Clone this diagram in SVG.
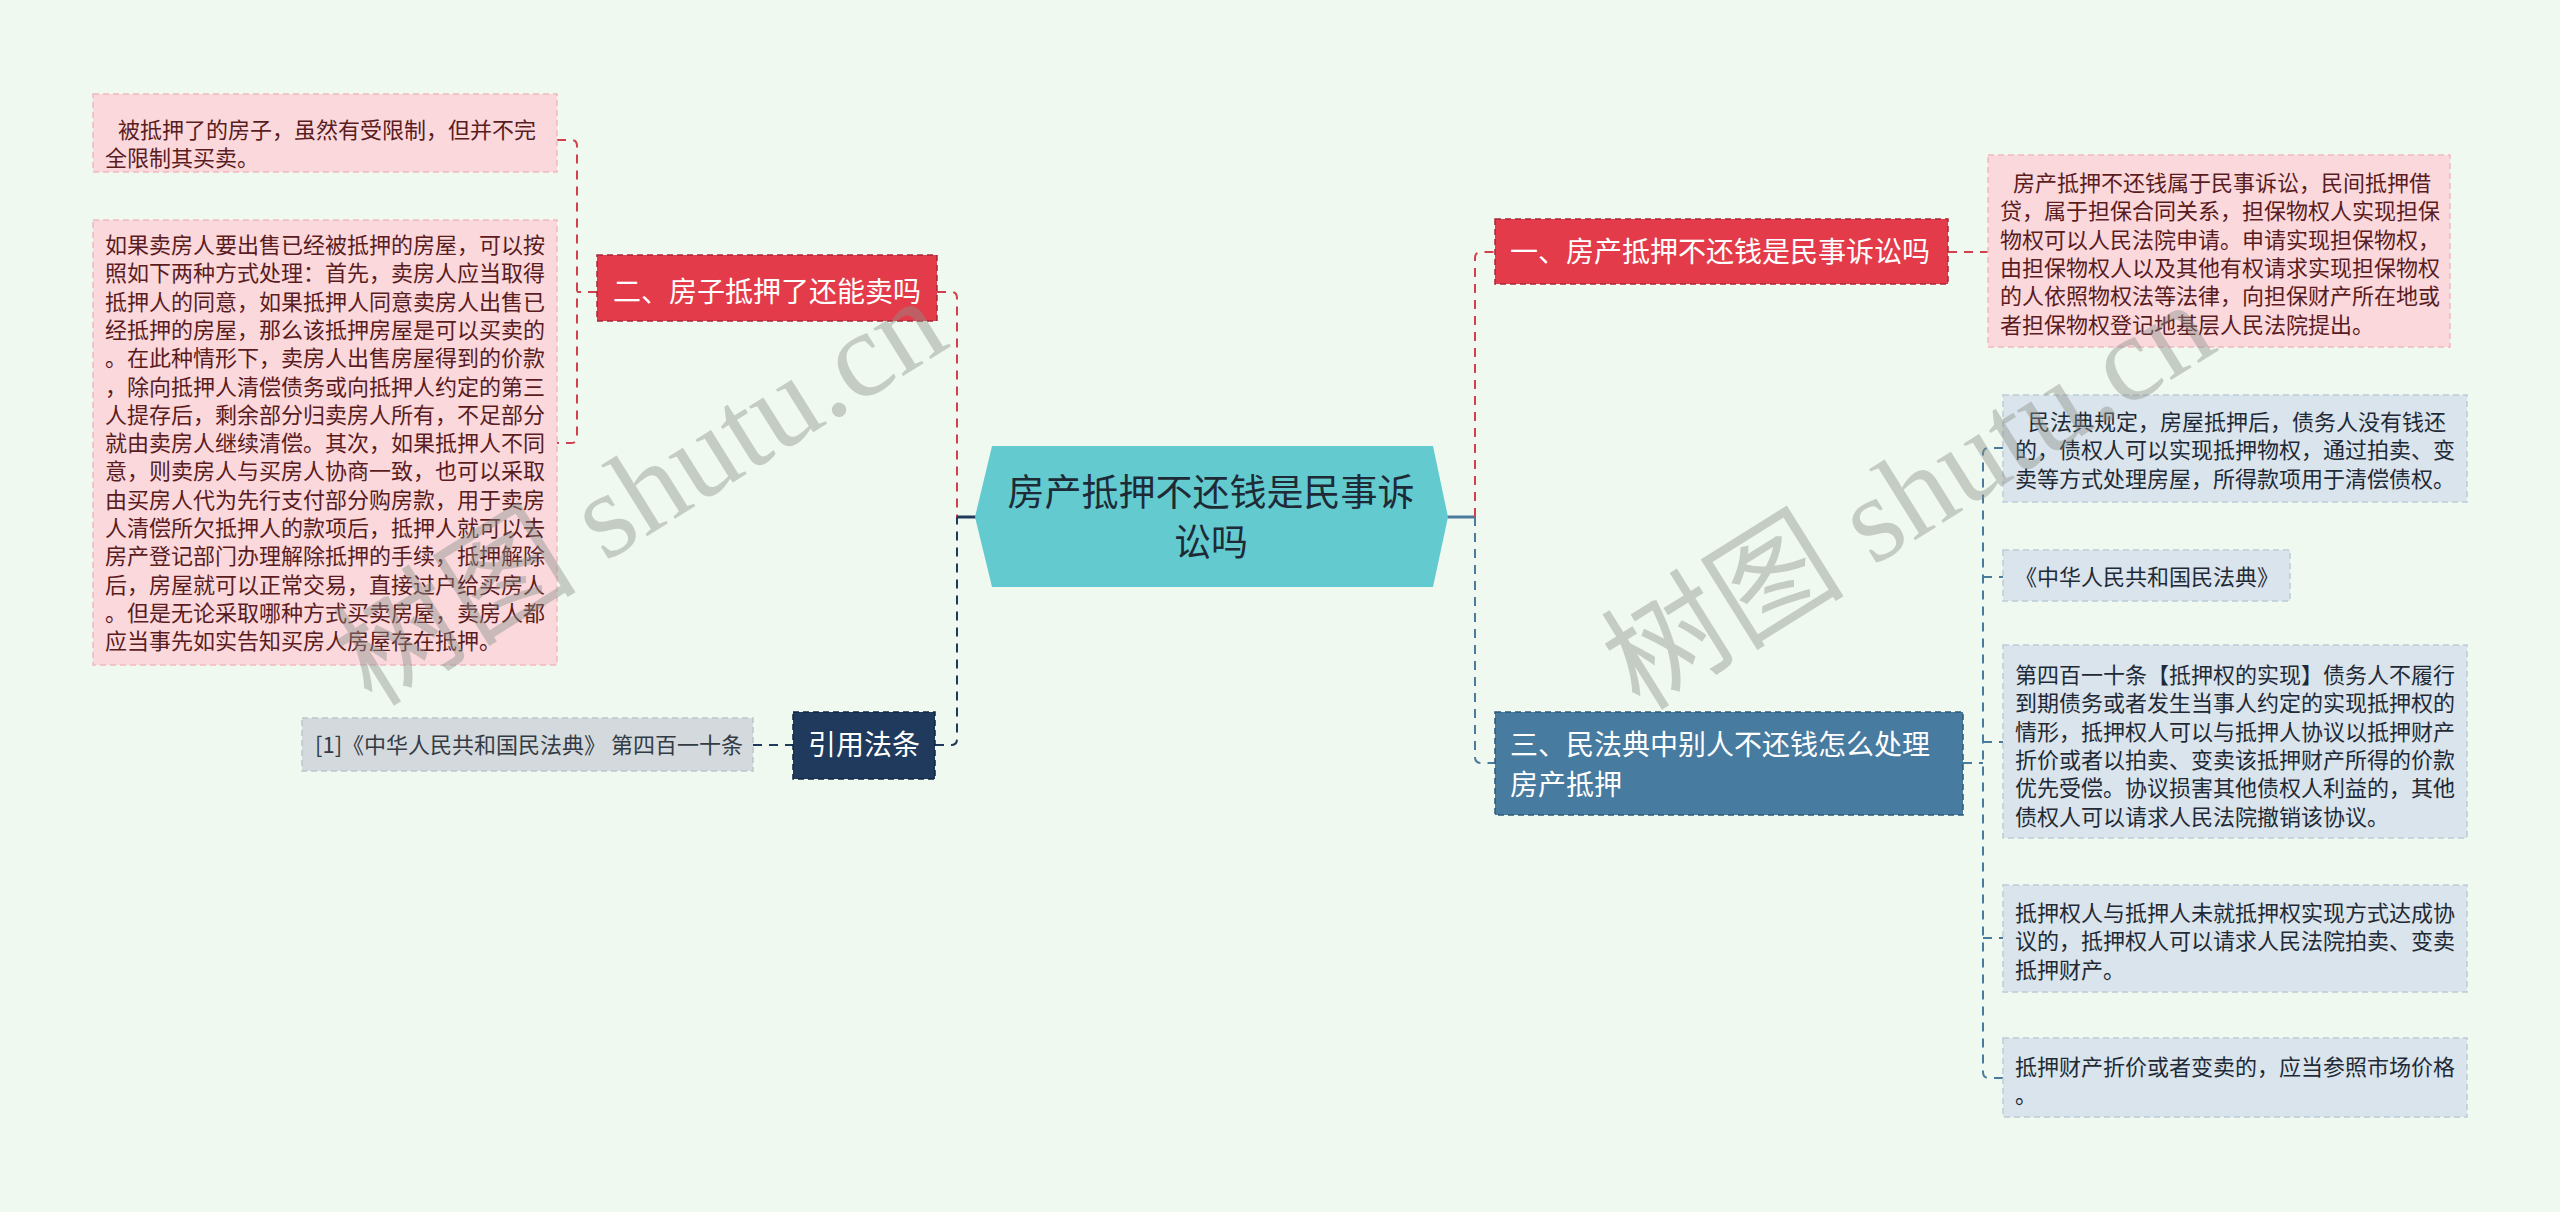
<svg xmlns="http://www.w3.org/2000/svg" width="2560" height="1212" viewBox="0 0 2560 1212">
<style>
text{font-family:"Noto Sans CJK SC","Liberation Sans",sans-serif;}
.pl rect{fill:#fad8dc;stroke:#f0b9bf;stroke-width:1.5;stroke-dasharray:6 4;}
.pl text{fill:#5a1c1e;font-size:22px;}
.bl rect{fill:#dae4ec;stroke:#bccbd8;stroke-width:1.5;stroke-dasharray:6 4;}
.bl text{fill:#1f2a36;font-size:22px;}
.rn rect{fill:#e43b4a;stroke:#a8283a;stroke-width:1.5;stroke-dasharray:6 4;}
.wt{fill:#ffffff;font-size:28px;}
.c{fill:none;stroke-width:2;stroke-dasharray:9 7;}
.red{stroke:#d0404e;}
.navy{stroke:#1f3a5c;}
.blue{stroke:#4a7a9c;}
.wm{font-family:"Liberation Serif","Noto Sans CJK SC",serif;font-size:122px;fill:#8a8f8a;opacity:0.42;}
</style>
<rect x="0" y="0" width="2560" height="1212" fill="#f0f9ef"/>

<g id="connectors">
  <path class="c red" d="M557,140 H571 Q577,140 577,146 V437 Q577,443 571,443 H557"/>
  <path class="c red" d="M597,292 H577"/>
  <path class="c red" d="M937,292 H951 Q957,292 957,298 V517"/>
  <path class="c navy" d="M753,745 H793"/>
  <path class="c navy" d="M935,745 H951 Q957,745 957,739 V517"/>
  <path d="M957,517 H976" stroke="#1f3a5c" stroke-width="3" fill="none"/>
  <path d="M1447,517 H1475" stroke="#4a7a9c" stroke-width="3" fill="none"/>
  <path class="c red" d="M1475,517 V258 Q1475,252 1481,252 H1495"/>
  <path class="c blue" d="M1475,517 V757 Q1475,763 1481,763 H1495"/>
  <path class="c red" d="M1948,252 H1988"/>
  <path class="c blue" d="M1963,763 H1983"/>
  <path class="c blue" d="M2003,448 H1989 Q1983,448 1983,454 V1072 Q1983,1078 1989,1078 H2003"/>
  <path class="c blue" d="M1983,577 H2003"/>
  <path class="c blue" d="M1983,742 H2003"/>
  <path class="c blue" d="M1983,938 H2003"/>
</g>

<g id="center">
  <polygon points="975,517 992,446 1433,446 1448,517 1433,587 992,587" fill="#63cbcf"/>
  <text x="1211" y="506" text-anchor="middle" font-size="37" fill="#1e2b36">房产抵押不还钱是民事诉</text>
  <text x="1211" y="556" text-anchor="middle" font-size="37" fill="#1e2b36">讼吗</text>
</g>

<g id="n2" class="rn">
  <rect x="597" y="255" width="340" height="66"/>
  <text class="wt" x="767" y="302" text-anchor="middle">二、房子抵押了还能卖吗</text>
</g>

<g id="n2a" class="pl">
  <rect x="93" y="94" width="464" height="78"/>
  <text x="118" y="138">被抵押了的房子，虽然有受限制，但并不完</text>
  <text x="105" y="166">全限制其买卖。</text>
</g>

<g id="n2b" class="pl">
  <rect x="93" y="220" width="464" height="445"/>
  <text x="105" y="253">如果卖房人要出售已经被抵押的房屋，可以按</text>
  <text x="105" y="281.3">照如下两种方式处理：首先，卖房人应当取得</text>
  <text x="105" y="309.6">抵押人的同意，如果抵押人同意卖房人出售已</text>
  <text x="105" y="337.9">经抵押的房屋，那么该抵押房屋是可以买卖的</text>
  <text x="105" y="366.2">。在此种情形下，卖房人出售房屋得到的价款</text>
  <text x="105" y="394.5">，除向抵押人清偿债务或向抵押人约定的第三</text>
  <text x="105" y="422.8">人提存后，剩余部分归卖房人所有，不足部分</text>
  <text x="105" y="451.1">就由卖房人继续清偿。其次，如果抵押人不同</text>
  <text x="105" y="479.4">意，则卖房人与买房人协商一致，也可以采取</text>
  <text x="105" y="507.7">由买房人代为先行支付部分购房款，用于卖房</text>
  <text x="105" y="536">人清偿所欠抵押人的款项后，抵押人就可以去</text>
  <text x="105" y="564.3">房产登记部门办理解除抵押的手续，抵押解除</text>
  <text x="105" y="592.6">后，房屋就可以正常交易，直接过户给买房人</text>
  <text x="105" y="620.9">。但是无论采取哪种方式买卖房屋，卖房人都</text>
  <text x="105" y="649.2">应当事先如实告知买房人房屋存在抵押。</text>
</g>

<g id="n4">
  <rect x="793" y="712" width="142" height="67" fill="#1f3a5c" stroke="#0f2440" stroke-width="1.5" stroke-dasharray="6 4"/>
  <text class="wt" x="864" y="755" text-anchor="middle">引用法条</text>
</g>

<g id="n4a">
  <rect x="302" y="718" width="451" height="53" fill="#d4d9dd" stroke="#bfc5cb" stroke-width="1.5" stroke-dasharray="6 4"/>
  <text x="315" y="753" font-size="22" fill="#333b44">[1]《中华人民共和国民法典》 第四百一十条</text>
</g>

<g id="n1" class="rn">
  <rect x="1495" y="219" width="453" height="65"/>
  <text class="wt" x="1510" y="262">一、房产抵押不还钱是民事诉讼吗</text>
</g>

<g id="n1a" class="pl">
  <rect x="1988" y="155" width="462" height="192"/>
  <text x="2013" y="191">房产抵押不还钱属于民事诉讼，民间抵押借</text>
  <text x="2000" y="219.3">贷，属于担保合同关系，担保物权人实现担保</text>
  <text x="2000" y="247.6">物权可以人民法院申请。申请实现担保物权，</text>
  <text x="2000" y="275.9">由担保物权人以及其他有权请求实现担保物权</text>
  <text x="2000" y="304.2">的人依照物权法等法律，向担保财产所在地或</text>
  <text x="2000" y="332.5">者担保物权登记地基层人民法院提出。</text>
</g>

<g id="n3">
  <rect x="1495" y="712" width="468" height="103" fill="#477b9f" stroke="#2e5a7a" stroke-width="1.5" stroke-dasharray="6 4"/>
  <text class="wt" x="1510" y="755">三、民法典中别人不还钱怎么处理</text>
  <text class="wt" x="1510" y="795">房产抵押</text>
</g>

<g id="n3a" class="bl">
  <rect x="2003" y="395" width="464" height="107"/>
  <text x="2028" y="430">民法典规定，房屋抵押后，债务人没有钱还</text>
  <text x="2015" y="458.3">的，债权人可以实现抵押物权，通过拍卖、变</text>
  <text x="2015" y="486.6">卖等方式处理房屋，所得款项用于清偿债权。</text>
</g>

<g id="n3b" class="bl">
  <rect x="2003" y="550" width="287" height="51"/>
  <text x="2015" y="585">《中华人民共和国民法典》</text>
</g>

<g id="n3c" class="bl">
  <rect x="2003" y="645" width="464" height="193"/>
  <text x="2015" y="683">第四百一十条【抵押权的实现】债务人不履行</text>
  <text x="2015" y="711.3">到期债务或者发生当事人约定的实现抵押权的</text>
  <text x="2015" y="739.6">情形，抵押权人可以与抵押人协议以抵押财产</text>
  <text x="2015" y="767.9">折价或者以拍卖、变卖该抵押财产所得的价款</text>
  <text x="2015" y="796.2">优先受偿。协议损害其他债权人利益的，其他</text>
  <text x="2015" y="824.5">债权人可以请求人民法院撤销该协议。</text>
</g>

<g id="n3d" class="bl">
  <rect x="2003" y="885" width="464" height="107"/>
  <text x="2015" y="921">抵押权人与抵押人未就抵押权实现方式达成协</text>
  <text x="2015" y="949.3">议的，抵押权人可以请求人民法院拍卖、变卖</text>
  <text x="2015" y="977.6">抵押财产。</text>
</g>

<g id="n3e" class="bl">
  <rect x="2003" y="1038" width="464" height="79"/>
  <text x="2015" y="1075">抵押财产折价或者变卖的，应当参照市场价格</text>
  <text x="2015" y="1103.3">。</text>
</g>

<text class="wm" transform="translate(372,708) rotate(-32)">树图 shutu.cn</text>
<text class="wm" transform="translate(1640,712) rotate(-32)">树图 shutu.cn</text>
</svg>
